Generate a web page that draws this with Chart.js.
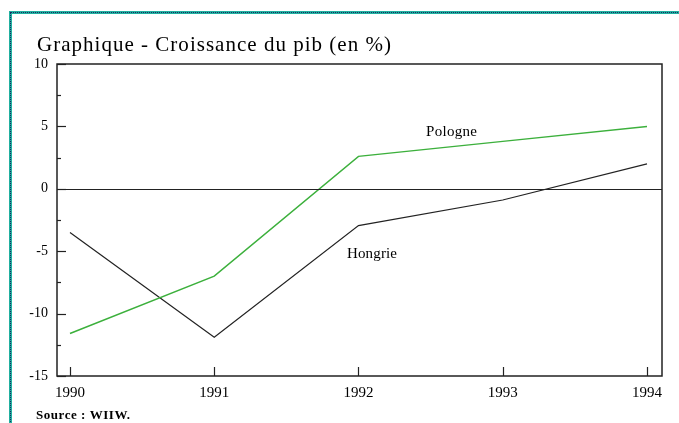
<!DOCTYPE html>
<html>
<head>
<meta charset="utf-8">
<script src="https://cdn.jsdelivr.net/npm/chart.js@4"></script>
<style>
  html, body { margin: 0; padding: 0; background: #fff; }
  .cadre {
    position: absolute; left: 9px; top: 11px; width: 680px; height: 420px;
    border-top: 3px solid #22b0a0; border-left: 3px solid #22b0a0;
  }
  .cadre::before {
    content: ""; position: absolute; left: -2px; top: -2px; right: 0; bottom: 0;
    border-top: 1px dotted #1a2a60; border-left: 1px dotted #1a2a60;
  }
  #wrap { position: absolute; left: 0; top: 0; width: 679px; height: 423px; }
</style>
</head>
<body>
<div class="cadre"></div>
<div id="wrap"><canvas id="myChart"></canvas></div>
<script>
// donnees
const annees = [1990, 1991, 1992, 1993, 1994]
const pologne = [-11.6, -7.0, 2.6, 3.8, 5.0]
const hongrie = [-3.5, -11.9, -2.95, -0.9, 2.0]
const yTicks = [-15, -10, -5, 0, 5, 10]

const titre = 'Graphique - Croissance du pib (en %)'
const source = 'Source : WIIW.'

// texte avec largeur imposee
function texte(ctx, t, x, y, largeur) {
  ctx.letterSpacing = '0px'
  let w = ctx.measureText(t).width
  let sp = (largeur - w) / (t.length - 1)
  ctx.letterSpacing = sp + 'px'
  ctx.fillText(t, x, y)
  ctx.letterSpacing = '0px'
}

const cadrePlot = {
  id: 'cadrePlot',
  afterDraw(chart) {
    let ctx = chart.ctx
    let a = chart.chartArea
    let xs = chart.scales.x
    let ys = chart.scales.y
    ctx.save()
    ctx.strokeStyle = '#222'
    ctx.lineWidth = 1.5
    ctx.strokeRect(a.left, a.top, a.right - a.left, a.bottom - a.top)

    // ligne du zero
    ctx.lineWidth = 1.2
    let y0 = Math.round(ys.getPixelForValue(0)) + 0.5
    ctx.beginPath()
    ctx.moveTo(a.left, y0)
    ctx.lineTo(a.right, y0)
    ctx.stroke()

    // graduations y
    for (let v = -15; v <= 10; v += 2.5) {
      let py = Math.round(ys.getPixelForValue(v)) + 0.5
      let len = (v % 5 === 0) ? 9 : 4
      ctx.beginPath()
      ctx.moveTo(a.left, py)
      ctx.lineTo(a.left + len, py)
      ctx.stroke()
    }
    // graduations x
    annees.forEach((an) => {
      let px = Math.round(xs.getPixelForValue(an)) + 0.5
      ctx.beginPath()
      ctx.moveTo(px, a.bottom)
      ctx.lineTo(px, a.bottom - 9)
      ctx.stroke()
    })

    ctx.fillStyle = '#000'
    ctx.textBaseline = 'alphabetic'
    ctx.textAlign = 'left'
    ctx.font = '21px "Liberation Serif"'
    texte(ctx, titre, 37, 51, 354)
    ctx.font = 'bold 13px "Liberation Serif"'
    texte(ctx, source, 36, 419, 94)
    ctx.font = '15px "Liberation Serif"'
    texte(ctx, 'Pologne', 426, 136, 51)
    texte(ctx, 'Hongrie', 347, 258, 50)
    ctx.restore()
  }
}

var ctx = document.getElementById('myChart').getContext('2d')
var myChart = new Chart(ctx, {
  type: 'line',
  data: {
    datasets: [{
      label: 'Pologne',
      data: annees.map((a, i) => ({ x: a, y: pologne[i] })),
      borderColor: '#3cb03c',
      borderWidth: 1.5,
      pointRadius: 0,
      tension: 0
    }, {
      label: 'Hongrie',
      data: annees.map((a, i) => ({ x: a, y: hongrie[i] })),
      borderColor: '#222',
      borderWidth: 1.2,
      pointRadius: 0,
      tension: 0
    }]
  },
  options: {
    responsive: true,
    maintainAspectRatio: false,
    animation: false,
    layout: { padding: { top: 64, right: 17, left: 0, bottom: 0 } },
    plugins: { legend: { display: false }, tooltip: { enabled: false } },
    scales: {
      x: {
        type: 'linear',
        min: 1989.91,
        max: 1994.104,
        grid: { display: false },
        border: { display: false },
        afterBuildTicks: (s) => { s.ticks = annees.map(v => ({ value: v })) },
        afterFit: (s) => { s.height = 47 },
        ticks: {
          color: '#000',
          padding: 0,
          maxRotation: 0,
          font: { family: 'Liberation Serif', size: 15 },
          callback: (v) => String(v)
        }
      },
      y: {
        min: -15,
        max: 10,
        grid: { display: false },
        border: { display: false },
        afterBuildTicks: (s) => { s.ticks = yTicks.map(v => ({ value: v })) },
        afterFit: (s) => { s.width = 57 },
        ticks: {
          color: '#000',
          padding: 1,
          font: { family: 'Liberation Serif', size: 14 }
        }
      }
    }
  },
  plugins: [cadrePlot]
})
</script>
</body>
</html>
